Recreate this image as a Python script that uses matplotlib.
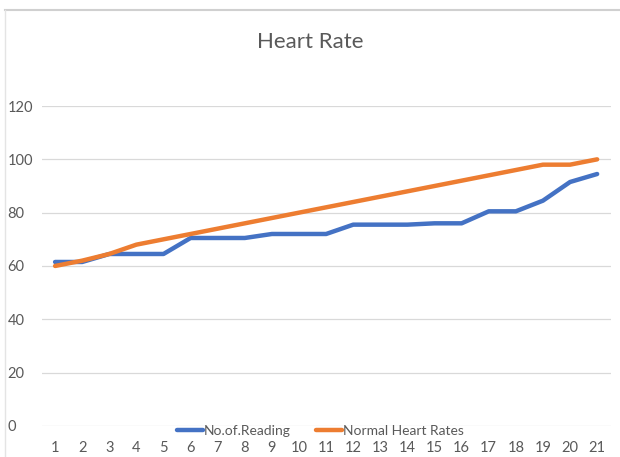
import matplotlib.pyplot as plt
from matplotlib.lines import Line2D

readings = list(range(1, 22))
measured = [61.5, 61.5, 64.5, 64.5, 64.5, 70.5, 70.5, 70.5, 72, 72, 72,
            75.5, 75.5, 75.5, 76, 76, 80.5, 80.5, 84.5, 91.5, 94.5]
normal = [60, 62, 64.5, 68, 70, 72, 74, 76, 78, 80, 82,
          84, 86, 88, 90, 92, 94, 96, 98, 98, 100]
yticks = [0, 20, 40, 60, 80, 100, 120]

plt.rcParams['font.family'] = ['Lato', 'DejaVu Sans']

fig = plt.figure(figsize=(6.2, 4.57), dpi=100)
ax = fig.add_axes([0.067, 0.068, 0.918, 0.700])

ax.plot(readings, measured, color='#4472C4', lw=3.2, label='No.of.Reading',
        solid_joinstyle='round', solid_capstyle='round')
ax.plot(readings, normal, color='#ED7D31', lw=3.2, label='Normal Heart Rates',
        solid_joinstyle='round', solid_capstyle='round')

ax.set_xlim(0.5, 21.5)
ax.set_ylim(0, 120)
ax.set_xticks(readings)
ax.set_yticks(yticks)
ax.grid(axis='y', color='#d9d9d9', lw=0.9)
ax.set_axisbelow(True)
for s in ax.spines.values():
    s.set_visible(False)
ax.tick_params(length=0, colors='#595959', labelsize=10.5)
ax.tick_params(axis='x', pad=11)
ax.tick_params(axis='y', pad=0)
for lbl in ax.get_yticklabels():
    lbl.set_horizontalalignment('left')
    lbl.set_x(-0.06)

fig.text(0.5, 0.908, 'Heart Rate', ha='center', va='center', fontsize=16, color='#595959')

leg = ax.legend(loc='center', bbox_to_anchor=(0.49, -0.015), ncol=2, frameon=False,
                fontsize=10, handlelength=1.9, handletextpad=0.05, columnspacing=1.8,
                borderpad=0)
for t in leg.get_texts():
    t.set_color('#595959')

# screenshot border remnants
fig.add_artist(Line2D([0.008, 1.0], [0.978, 0.978], color='#d0d0d0', lw=1.5))
fig.add_artist(Line2D([0.008, 0.008], [0.0, 0.978], color='#e4e4e4', lw=1))

fig.savefig('out.png', dpi=100)
